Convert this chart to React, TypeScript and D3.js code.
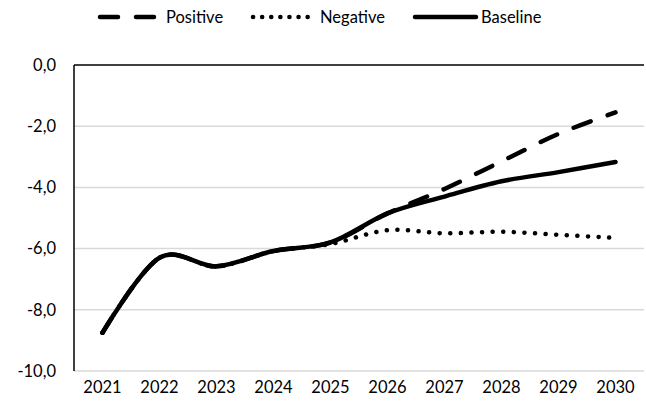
import React from "react";
import * as d3 from "d3";

const years = ["2021", "2022", "2023", "2024", "2025", "2026", "2027", "2028", "2029", "2030"];
const baseline = [-8.75, -6.3, -6.58, -6.08, -5.8, -4.85, -4.3, -3.8, -3.5, -3.17];
const positive = [-8.75, -6.3, -6.58, -6.08, -5.8, -4.85, -4.05, -3.15, -2.25, -1.55];
const negative = [-8.75, -6.3, -6.58, -6.08, -5.85, -5.4, -5.5, -5.45, -5.55, -5.65];
const yTicks = [0, -2, -4, -6, -8, -10];

const W = 646, H = 407;
const margin = { left: 74, right: 2, top: 65, bottom: 36 };
const FONT = "Lato, 'Open Sans', sans-serif";

export default function App() {
  const x = d3.scaleBand<string>().domain(years).range([margin.left, W - margin.right]).padding(0);
  const y = d3.scaleLinear().domain([-10, 0]).range([H - margin.bottom, margin.top]);
  const cx = (i: number) => (x(years[i]) as number) + x.bandwidth() / 2;
  const line = d3.line<number>().x((_, i) => cx(i)).y((d) => y(d)).curve(d3.curveCatmullRom.alpha(0));

  const fmt = (v: number) => v.toFixed(1).replace(".", ",");
  const legendY = 17;

  return (
    <svg width={W} height={H} style={{ position: "absolute", left: 0, top: 0, background: "#fff" }}>
      {yTicks.filter((t) => t !== 0).map((t) => (
        <line key={t} x1={margin.left} x2={W - margin.right} y1={y(t)} y2={y(t)} stroke="#d9d9d9" strokeWidth={1.5} />
      ))}
      <line x1={margin.left} x2={W - margin.right} y1={y(0)} y2={y(0)} stroke="#000" strokeWidth={1.5} />
      <line x1={margin.left} x2={margin.left} y1={y(0)} y2={y(-10)} stroke="#000" strokeWidth={1.5} />
      {yTicks.map((t) => (
        <text key={t} x={56} y={y(t)} dy="0.35em" textAnchor="end" fontFamily={FONT} fontSize={16.5} fill="#000">
          {fmt(t)}
        </text>
      ))}
      {years.map((yr, i) => (
        <text key={yr} x={cx(i)} y={H - 14} textAnchor="middle" fontFamily={FONT} fontSize={16.5} fill="#000">
          {yr}
        </text>
      ))}
      <path d={line(positive) || ""} fill="none" stroke="#000" strokeWidth={4.5} strokeDasharray="18 18" strokeLinecap="round" />
      <path d={line(negative) || ""} fill="none" stroke="#000" strokeWidth={4.5} strokeDasharray="0.1 10.5" strokeLinecap="round" />
      <path d={line(baseline) || ""} fill="none" stroke="#000" strokeWidth={4.5} strokeLinecap="round" />

      <g>
        <line x1={100} x2={155} y1={legendY} y2={legendY} stroke="#000" strokeWidth={4.5} strokeDasharray="18 18" strokeLinecap="round" />
        <text x={166} y={legendY} dy="0.35em" fontFamily={FONT} fontSize={16.5} fill="#000">Positive</text>
        <line x1={253} x2={308} y1={legendY} y2={legendY} stroke="#000" strokeWidth={4.5} strokeDasharray="0.1 9" strokeLinecap="round" />
        <text x={320} y={legendY} dy="0.35em" fontFamily={FONT} fontSize={16.5} fill="#000">Negative</text>
        <line x1={415} x2={476} y1={legendY} y2={legendY} stroke="#000" strokeWidth={4.5} strokeLinecap="round" />
        <text x={481} y={legendY} dy="0.35em" fontFamily={FONT} fontSize={16.5} fill="#000">Baseline</text>
      </g>
    </svg>
  );
}
